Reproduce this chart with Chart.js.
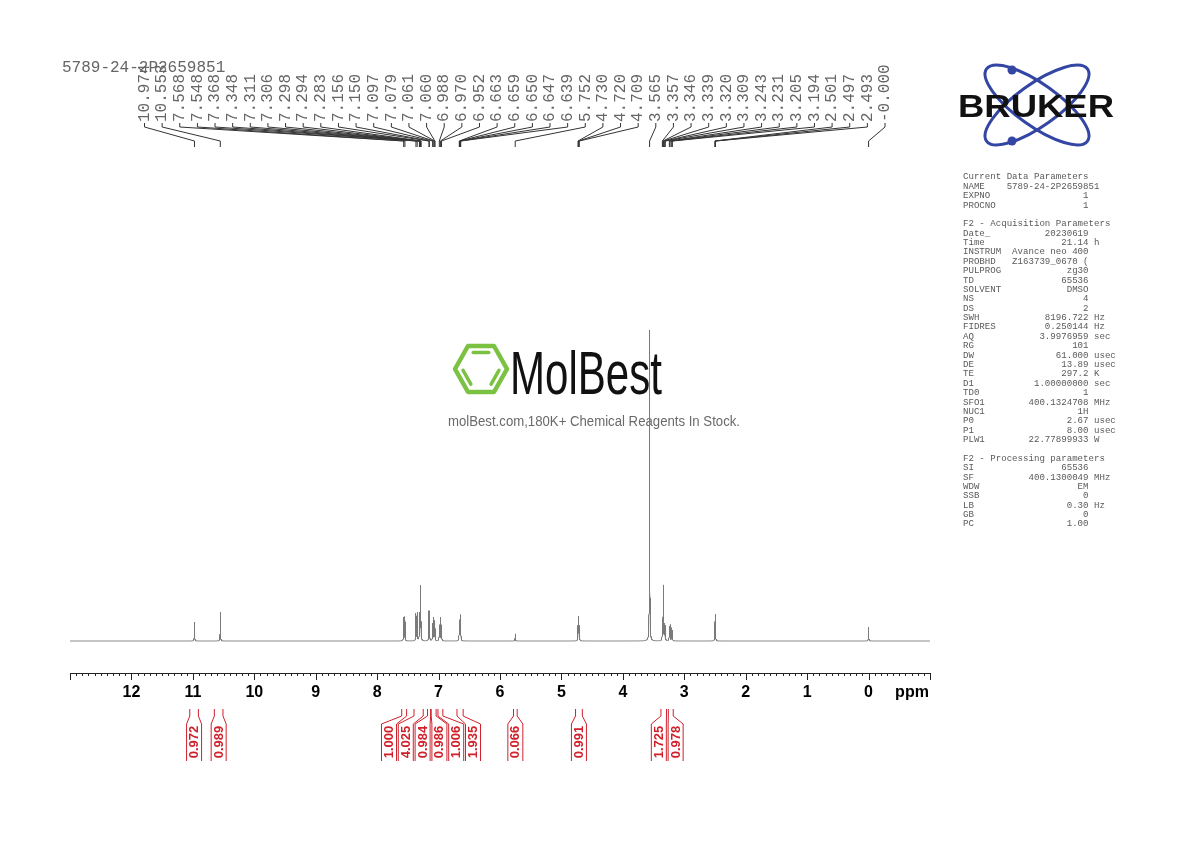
<!DOCTYPE html>
<html><head><meta charset="utf-8">
<script src="https://cdn.jsdelivr.net/npm/chart.js@4/dist/chart.umd.min.js"></script>
<style>html,body{margin:0;padding:0;background:#fff;}canvas{display:block;}</style>
</head><body>
<canvas id="c" width="1190" height="842"></canvas>
<script>
const sampleName = "5789-24-2P2659851";
const peakPpm = [10.974,10.553,7.568,7.548,7.368,7.348,7.311,7.306,7.298,7.294,7.283,7.156,7.150,7.097,7.079,7.061,7.060,6.988,6.970,6.952,6.663,6.659,6.650,6.647,6.639,5.752,4.730,4.720,4.709,3.565,3.357,3.346,3.339,3.320,3.309,3.243,3.231,3.205,3.194,2.501,2.497,2.493,0.000];
const peakLabels = ["10.974","10.553","7.568","7.548","7.368","7.348","7.311","7.306","7.298","7.294","7.283","7.156","7.150","7.097","7.079","7.061","7.060","6.988","6.970","6.952","6.663","6.659","6.650","6.647","6.639","5.752","4.730","4.720","4.709","3.565","3.357","3.346","3.339","3.320","3.309","3.243","3.231","3.205","3.194","2.501","2.497","2.493","-0.000"];
const peakHeight = [6.1,9.3,7.5,7.7,8.7,9.0,5,6,13,11,5,8.2,8.2,5.5,7.4,3.3,3.3,5,7.4,5,3.5,4.5,5,5,4,2.3,4.5,7.4,4.5,100,4.5,5.5,17,5,4.5,4.5,5,4,3.2,3.2,6.5,3.2,4.5];
const integralFrom = [11.05,10.65,7.60,7.40,7.18,7.12,7.01,6.70,5.78,4.77,3.38,3.26];
const integralTo   = [10.91,10.51,7.52,7.25,7.13,7.04,6.93,6.60,5.72,4.66,3.29,3.18];
const integralValues = ["0.972","0.989","1.000","4.025","0.984","0.986","1.006","1.935","0.066","0.991","1.725","0.978"];
const axisTicks = [12,11,10,9,8,7,6,5,4,3,2,1,0];
const paramLines = [
 ["Current Data Parameters"],["NAME",sampleName],["EXPNO","1"],["PROCNO","1"],[""],
 ["F2 - Acquisition Parameters"],["Date_","20230619"],["Time","21.14","h"],["INSTRUM","Avance neo 400"],
 ["PROBHD","Z163739_0670 ("],["PULPROG","zg30"],["TD","65536"],["SOLVENT","DMSO"],["NS","4"],["DS","2"],
 ["SWH","8196.722","Hz"],["FIDRES","0.250144","Hz"],["AQ","3.9976959","sec"],["RG","101"],
 ["DW","61.000","usec"],["DE","13.89","usec"],["TE","297.2","K"],["D1","1.00000000","sec"],["TD0","1"],
 ["SFO1","400.1324708","MHz"],["NUC1","1H"],["P0","2.67","usec"],["P1","8.00","usec"],["PLW1","22.77899933","W"],[""],
 ["F2 - Processing parameters"],["SI","65536"],["SF","400.1300049","MHz"],["WDW","EM"],["SSB","0"],
 ["LB","0.30","Hz"],["GB","0"],["PC","1.00"]
];

// spectrum line from the peak list (Lorentzian line shape)
const hw = 0.0028;
const spec = [];
for (let i = 26000; i >= -2000; i--) {
  const x = i / 2000;
  let y = 0;
  for (let k = 0; k < peakPpm.length; k++) {
    const d = (x - peakPpm[k]) / hw;
    y += peakHeight[k] / (1 + d * d);
  }
  spec.push({x: x, y: y});
}

const MONO = '"Liberation Mono","DejaVu Sans Mono",monospace';
const SANS = '"Liberation Sans",Arial,sans-serif';

function fitText(ctx, txt, x, y, w) {
  const m = ctx.measureText(txt).width;
  ctx.save(); ctx.translate(x, y); ctx.scale(w / m, 1); ctx.fillText(txt, 0, 0); ctx.restore();
}

const watermark = {
  id: 'watermark',
  beforeDatasetsDraw(chart) {
    const ctx = chart.ctx;
    ctx.save();
    const cx = 481, cy = 369, r = 26, rv = 23;
    const pts = [[cx - r, cy], [cx - r / 2, cy - rv], [cx + r / 2, cy - rv], [cx + r, cy], [cx + r / 2, cy + rv], [cx - r / 2, cy + rv]];
    ctx.strokeStyle = '#7cc242'; ctx.lineWidth = 4.5; ctx.lineJoin = 'round'; ctx.lineCap = 'round';
    ctx.beginPath(); pts.forEach((p, i) => i ? ctx.lineTo(p[0], p[1]) : ctx.moveTo(p[0], p[1])); ctx.closePath(); ctx.stroke();
    ctx.lineWidth = 3.5;
    const inner = (a, b) => {
      const s = 0.72, ix = cx + (a[0] + b[0] - 2 * cx) / 2 * s, iy = cy + (a[1] + b[1] - 2 * cy) / 2 * s;
      const dx = (b[0] - a[0]) * 0.3, dy = (b[1] - a[1]) * 0.3;
      ctx.beginPath(); ctx.moveTo(ix - dx, iy - dy); ctx.lineTo(ix + dx, iy + dy); ctx.stroke();
    };
    inner(pts[1], pts[2]); inner(pts[3], pts[4]); inner(pts[5], pts[0]);
    ctx.fillStyle = '#111';
    ctx.font = '61px ' + SANS; ctx.textBaseline = 'alphabetic';
    fitText(ctx, 'MolBest', 510, 394, 152);
    ctx.fillStyle = '#6a6a6a'; ctx.font = '14px ' + SANS;
    fitText(ctx, 'molBest.com,180K+ Chemical Reagents In Stock.', 448, 426, 292);
    ctx.restore();
  }
};

const extras = {
  id: 'extras',
  afterDraw(chart) {
    const ctx = chart.ctx, xs = chart.scales.x, ca = chart.chartArea;
    const X = v => xs.getPixelForValue(v);
    ctx.save();
    const y0 = ca.bottom;
    ctx.strokeStyle = '#222'; ctx.lineWidth = 1;
    ctx.beginPath(); ctx.moveTo(X(13), y0 + 0.5); ctx.lineTo(X(-1), y0 + 0.5);
    for (let i = -10; i <= 130; i++) {
      const x = Math.round(X(i / 10)) + 0.5, len = (i % 10 === 0) ? 7 : 3;
      ctx.moveTo(x, y0); ctx.lineTo(x, y0 + len);
    }
    ctx.stroke();
    ctx.fillStyle = '#000'; ctx.font = 'bold 16px ' + SANS; ctx.textAlign = 'center'; ctx.textBaseline = 'middle';
    axisTicks.forEach(v => ctx.fillText(String(v), X(v), 693));
    ctx.fillText('ppm', 912, 693);

    ctx.fillStyle = '#666'; ctx.font = '16px ' + MONO; ctx.textAlign = 'left'; ctx.textBaseline = 'middle';
    ctx.fillText(sampleName, 62, 68);

    const n = peakLabels.length, lx0 = 144.5, lx1 = 885;
    ctx.strokeStyle = '#333'; ctx.lineWidth = 1;
    ctx.beginPath();
    for (let i = 0; i < n; i++) {
      const lx = lx0 + (lx1 - lx0) * i / (n - 1), px = X(peakPpm[i]);
      ctx.save(); ctx.translate(lx, 122); ctx.rotate(-Math.PI / 2);
      ctx.fillText(peakLabels[i], 0, 0); ctx.restore();
      ctx.moveTo(lx, 123); ctx.lineTo(lx, 127); ctx.lineTo(px, 141); ctx.lineTo(px, 147);
    }
    ctx.stroke();

    const m = integralValues.length;
    const cen = integralFrom.map((f, i) => (X(f) + X(integralTo[i])) / 2);
    const s = 16.8;
    let groups = cen.map((c, i) => ({idx: [i], mean: c}));
    let changed = true;
    while (changed) {
      changed = false;
      for (let g = 0; g < groups.length - 1; g++) {
        const A = groups[g], B = groups[g + 1];
        const aEnd = A.mean + (A.idx.length - 1) * s / 2, bStart = B.mean - (B.idx.length - 1) * s / 2;
        if (bStart - aEnd < s) {
          const idx = A.idx.concat(B.idx);
          groups.splice(g, 2, {idx: idx, mean: idx.reduce((t, k) => t + cen[k], 0) / idx.length});
          changed = true; break;
        }
      }
    }
    const lab = [];
    groups.forEach(G => G.idx.forEach((k, j) => lab[k] = G.mean + (j - (G.idx.length - 1) / 2) * s));
    ctx.strokeStyle = '#d0202a'; ctx.fillStyle = '#d0202a'; ctx.lineWidth = 1;
    ctx.beginPath();
    for (let i = 0; i < m; i++) {
      const xa = X(integralFrom[i]), xb = X(integralTo[i]), L = lab[i];
      ctx.moveTo(xa, 709); ctx.lineTo(xa, 716); ctx.lineTo(L - 7.5, 724); ctx.lineTo(L - 7.5, 761);
      ctx.moveTo(xb, 709); ctx.lineTo(xb, 716); ctx.lineTo(L + 7.5, 724); ctx.lineTo(L + 7.5, 761);
    }
    ctx.stroke();
    ctx.font = 'bold 13px ' + SANS; ctx.textAlign = 'center'; ctx.textBaseline = 'middle';
    for (let i = 0; i < m; i++) {
      ctx.save(); ctx.translate(lab[i] + 0.5, 742); ctx.rotate(-Math.PI / 2);
      ctx.fillText(integralValues[i], 0, 0); ctx.restore();
    }

    ctx.fillStyle = '#5a5a5a'; ctx.font = '9.1px ' + MONO; ctx.textAlign = 'left'; ctx.textBaseline = 'middle';
    paramLines.forEach((p, i) => {
      let line = p[0];
      if (p.length > 1) {
        line = p[0].padEnd(8) + p[1].padStart(15);
        if (p[2]) line += ' ' + p[2];
      }
      ctx.fillText(line, 963, 177 + i * 9.38);
    });

    // Bruker logo
    ctx.strokeStyle = '#3346a3'; ctx.lineWidth = 3;
    [0.62, -0.62].forEach(a => {
      ctx.beginPath(); ctx.ellipse(1037, 105, 62, 21, a, 0, Math.PI * 2); ctx.stroke();
    });
    ctx.fillStyle = '#3346a3';
    [[1012, 70], [1012, 141]].forEach(p => { ctx.beginPath(); ctx.arc(p[0], p[1], 4.5, 0, Math.PI * 2); ctx.fill(); });
    ctx.fillStyle = '#111'; ctx.font = '900 32px ' + SANS; ctx.textBaseline = 'alphabetic';
    fitText(ctx, 'BRUKER', 958, 117, 156);
    ctx.restore();
  }
};

const chart = new Chart(document.getElementById('c'), {
  type: 'line',
  data: { datasets: [{ data: spec, borderColor: '#7a7a7a', borderWidth: 1, pointRadius: 0, fill: false, tension: 0, clip: false }] },
  options: {
    responsive: false, animation: false, parsing: false, normalized: true,
    layout: { padding: { left: 70, right: 260, top: 300, bottom: 169 } },
    plugins: { legend: { display: false }, tooltip: { enabled: false } },
    scales: {
      x: { type: 'linear', min: -1, max: 13, reverse: true, display: false },
      y: { type: 'linear', min: -10.29, max: 109.65, display: false }
    }
  },
  plugins: [watermark, extras]
});
</script>
</body></html>
